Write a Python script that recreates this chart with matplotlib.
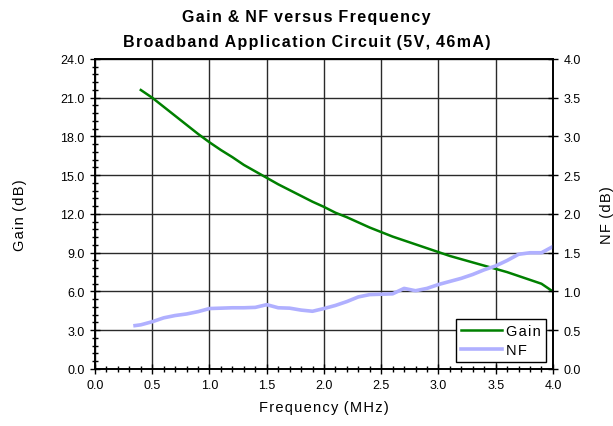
import matplotlib.pyplot as plt
from matplotlib.ticker import MultipleLocator

# dados
freq_gain = [0.4, 0.5, 0.6, 0.7, 0.8, 0.9, 1.0, 1.1, 1.2, 1.3, 1.4, 1.5, 1.6, 1.7,
             1.8, 1.9, 2.0, 2.1, 2.2, 2.3, 2.4, 2.5, 2.6, 2.7, 2.8, 2.9, 3.0, 3.1,
             3.2, 3.3, 3.4, 3.5, 3.6, 3.7, 3.8, 3.9, 4.0]
gain = [21.6, 21.0, 20.3, 19.6, 18.9, 18.2, 17.55, 16.95, 16.4, 15.8, 15.3, 14.8,
        14.3, 13.85, 13.4, 12.95, 12.55, 12.1, 11.75, 11.35, 10.95, 10.6, 10.25,
        9.95, 9.65, 9.35, 9.05, 8.75, 8.5, 8.25, 8.0, 7.75, 7.5, 7.2, 6.9, 6.6, 6.0]

freq_nf = [0.35, 0.4, 0.5, 0.6, 0.7, 0.8, 0.9, 1.0, 1.1, 1.2, 1.3, 1.4, 1.5, 1.6,
           1.7, 1.8, 1.9, 2.0, 2.1, 2.2, 2.3, 2.4, 2.5, 2.6, 2.7, 2.8, 2.9, 3.0,
           3.1, 3.2, 3.3, 3.4, 3.5, 3.6, 3.7, 3.8, 3.9, 4.0]
nf = [0.56, 0.57, 0.61, 0.66, 0.69, 0.71, 0.74, 0.78, 0.785, 0.79, 0.79, 0.795,
      0.83, 0.79, 0.785, 0.76, 0.745, 0.78, 0.82, 0.87, 0.93, 0.96, 0.965, 0.97,
      1.04, 1.01, 1.04, 1.09, 1.13, 1.17, 1.22, 1.28, 1.33, 1.40, 1.48, 1.50,
      1.50, 1.58]

plt.rcParams['font.family'] = ['Liberation Sans', 'DejaVu Sans']


def espacar(texto):
    # espaço bem fino entre letras, como no original
    return ' \u200a'.join('\u200a'.join(palavra) for palavra in texto.split(' '))


fig = plt.figure(figsize=(6.13, 4.27), dpi=100)
ax = fig.add_axes([0.155, 0.1335, 0.747, 0.726])
ax2 = ax.twinx()

l1, = ax.plot(freq_gain, gain, color='#008000', lw=1.8)
l2, = ax2.plot(freq_nf, nf, color='#b0b0ff', lw=2.6)

ax.set_xlim(0, 4)
ax.set_ylim(0, 24)
ax2.set_ylim(0, 4)

ax.xaxis.set_major_locator(MultipleLocator(0.5))
ax.xaxis.set_minor_locator(MultipleLocator(0.1))
ax.yaxis.set_major_locator(MultipleLocator(3))
ax.yaxis.set_minor_locator(MultipleLocator(0.6))
ax2.yaxis.set_major_locator(MultipleLocator(0.5))

ax.xaxis.set_major_formatter('{x:.1f}')
ax.yaxis.set_major_formatter('{x:.1f}')
ax2.yaxis.set_major_formatter('{x:.1f}')

ax.grid(True, which='major', color='#2a2a2a', lw=1.0)
ax.tick_params(which='major', direction='inout', length=7, width=1, labelsize=9, pad=4)
ax.tick_params(which='minor', direction='inout', length=5, width=1)
ax2.tick_params(which='major', direction='inout', length=7, width=1, labelsize=9, pad=4)
for a in (ax, ax2):
    for s in a.spines.values():
        s.set_linewidth(1.2)

ax.set_xlabel(espacar('Frequency (MHz)'), fontsize=10.5, labelpad=6)
ax.set_ylabel(espacar('Gain (dB)'), fontsize=10.5, labelpad=24)
ax2.set_ylabel(espacar('NF (dB)'), fontsize=10.5, labelpad=14)

fig.text(0.5, 0.958, espacar('Gain & NF versus Frequency'),
         ha='center', va='center', fontsize=11.5, fontweight='bold')
fig.text(0.5, 0.900, espacar('Broadband Application Circuit (5V, 46mA)'),
         ha='center', va='center', fontsize=11.5, fontweight='bold')

leg = ax2.legend(handles=[l1, l2], labels=[espacar('Gain'), espacar('NF')],
                 loc='lower right', bbox_to_anchor=(0.985, 0.023), borderaxespad=0,
                 fancybox=False, framealpha=1, edgecolor='black', fontsize=10.5,
                 handlelength=2.8, handletextpad=0.3, borderpad=0.35,
                 labelspacing=0.35)
leg.get_frame().set_linewidth(1.0)

fig.savefig('out.png', dpi=100)
